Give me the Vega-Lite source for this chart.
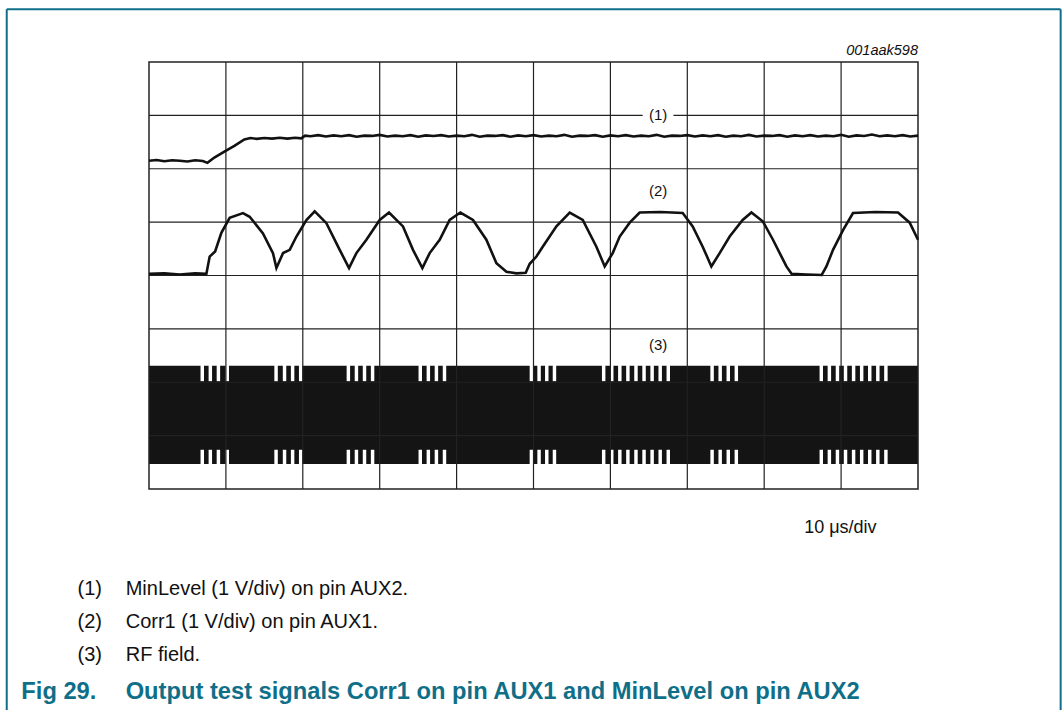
{
  "$schema": "https://vega.github.io/schema/vega-lite/v6.json",
  "width": 769,
  "height": 427,
  "autosize": {"type": "none"},
  "padding": {"left": 149, "top": 62, "right": 145, "bottom": 221},
  "background": "white",
  "config": {"view": {"stroke": null}, "font": "Liberation Sans"},
  "data": {"values": [{}]},
  "datasets": {
    "minlevel": [
      {"t":0,"v":6.15},{"t":1,"v":6.165},{"t":2,"v":6.14},{"t":3,"v":6.16},{"t":4,"v":6.15},{"t":5,"v":6.135},{"t":6,"v":6.16},{"t":7,"v":6.145},{"t":7.6,"v":6.11},{"t":8.5,"v":6.21},{"t":9.8,"v":6.32},{"t":11.1,"v":6.43},{"t":12.4,"v":6.55},{"t":13.2,"v":6.575},{"t":14,"v":6.56},{"t":15,"v":6.575},{"t":16,"v":6.565},{"t":17,"v":6.58},{"t":18,"v":6.565},{"t":19,"v":6.58},{"t":19.8,"v":6.57},{"t":20.3,"v":6.62},
      {"t":21,"v":6.61},{"t":22,"v":6.63},{"t":23,"v":6.605},{"t":24,"v":6.625},{"t":25,"v":6.61},{"t":26,"v":6.63},{"t":27,"v":6.6},{"t":28,"v":6.62},{"t":29,"v":6.615},{"t":30,"v":6.635},
      {"t":31,"v":6.605},{"t":32,"v":6.62},{"t":33,"v":6.61},{"t":34,"v":6.63},{"t":35,"v":6.6},{"t":36,"v":6.625},{"t":37,"v":6.615},{"t":38,"v":6.63},{"t":39,"v":6.605},{"t":40,"v":6.62},
      {"t":41,"v":6.61},{"t":42,"v":6.635},{"t":43,"v":6.6},{"t":44,"v":6.62},{"t":45,"v":6.615},{"t":46,"v":6.63},{"t":47,"v":6.6},{"t":48,"v":6.625},{"t":49,"v":6.61},{"t":50,"v":6.63},
      {"t":51,"v":6.605},{"t":52,"v":6.62},{"t":53,"v":6.61},{"t":54,"v":6.635},{"t":55,"v":6.6},{"t":56,"v":6.62},{"t":57,"v":6.615},{"t":58,"v":6.63},{"t":59,"v":6.6},{"t":60,"v":6.625},
      {"t":61,"v":6.61},{"t":62,"v":6.63},{"t":63,"v":6.605},{"t":64,"v":6.62},{"t":65,"v":6.61},{"t":66,"v":6.635},{"t":67,"v":6.6},{"t":68,"v":6.62},{"t":69,"v":6.615},{"t":70,"v":6.63},
      {"t":71,"v":6.605},{"t":72,"v":6.625},{"t":73,"v":6.61},{"t":74,"v":6.63},{"t":75,"v":6.6},{"t":76,"v":6.62},{"t":77,"v":6.61},{"t":78,"v":6.635},{"t":79,"v":6.605},{"t":80,"v":6.62},
      {"t":81,"v":6.615},{"t":82,"v":6.63},{"t":83,"v":6.6},{"t":84,"v":6.625},{"t":85,"v":6.61},{"t":86,"v":6.63},{"t":87,"v":6.605},{"t":88,"v":6.62},{"t":89,"v":6.61},{"t":90,"v":6.635},
      {"t":91,"v":6.6},{"t":92,"v":6.625},{"t":93,"v":6.615},{"t":94,"v":6.64},{"t":95,"v":6.61},{"t":96,"v":6.625},{"t":97,"v":6.61},{"t":98,"v":6.63},{"t":99,"v":6.605},{"t":100,"v":6.62}
    ],
    "corr1": [
      {"t":0,"v":4.03},{"t":2,"v":4.04},{"t":4,"v":4.02},{"t":6,"v":4.04},{"t":7.46,"v":4.03},{"t":7.89,"v":4.355},{"t":8.6,"v":4.45},{"t":9.41,"v":4.8},{"t":10.49,"v":5.08},{"t":12.22,"v":5.17},{"t":13.09,"v":5.1},{"t":14.82,"v":4.79},{"t":16.12,"v":4.42},{"t":16.57,"v":4.14},{"t":17.43,"v":4.42},{"t":18.3,"v":4.48},{"t":19.17,"v":4.73},{"t":20.47,"v":5.04},{"t":21.55,"v":5.2},
      {"t":23.07,"v":4.98},{"t":24.8,"v":4.48},{"t":26.01,"v":4.14},{"t":26.97,"v":4.42},{"t":28.27,"v":4.67},{"t":30.0,"v":5.04},{"t":31.21,"v":5.18},{"t":33.03,"v":4.92},{"t":34.33,"v":4.48},{"t":35.55,"v":4.14},{"t":36.5,"v":4.42},{"t":37.8,"v":4.67},{"t":39.1,"v":5.04},{"t":40.49,"v":5.18},
      {"t":42.13,"v":5.04},{"t":43.87,"v":4.67},{"t":45.18,"v":4.23},{"t":46.48,"v":4.07},{"t":47.8,"v":4.04},{"t":48.99,"v":4.05},{"t":49.51,"v":4.22},{"t":50.38,"v":4.355},{"t":51.2,"v":4.54},{"t":52.98,"v":4.92},{"t":54.71,"v":5.18},{"t":56.4,"v":5.04},{"t":58.18,"v":4.54},{"t":59.26,"v":4.17},{"t":60.3,"v":4.42},{"t":61.21,"v":4.73},{"t":62.51,"v":4.99},{"t":63.81,"v":5.18},
      {"t":66.5,"v":5.19},{"t":69.4,"v":5.17},{"t":70.7,"v":4.92},{"t":72.0,"v":4.54},{"t":73.13,"v":4.17},{"t":74.21,"v":4.42},{"t":75.51,"v":4.73},{"t":77.2,"v":5.04},{"t":78.34,"v":5.18},{"t":79.84,"v":5.01},{"t":81.14,"v":4.67},{"t":82.89,"v":4.17},{"t":83.58,"v":4.03},{"t":85.5,"v":4.02},{"t":87.48,"v":4.01},
      {"t":88.09,"v":4.17},{"t":88.95,"v":4.48},{"t":90.25,"v":4.85},{"t":91.55,"v":5.17},{"t":94.5,"v":5.19},{"t":97.4,"v":5.18},{"t":98.92,"v":4.99},{"t":100,"v":4.67}
    ],
    "gaps": [
      {"g0":6.7,"g1":7.15},{"g0":7.75,"g1":8.2},{"g0":8.8,"g1":9.25},{"g0":9.95,"g1":10.4},
      {"g0":16.3,"g1":16.75},{"g0":17.4,"g1":17.85},{"g0":18.45,"g1":18.9},{"g0":19.5,"g1":19.95},
      {"g0":25.7,"g1":26.15},{"g0":26.75,"g1":27.2},{"g0":27.8,"g1":28.25},{"g0":28.85,"g1":29.3},
      {"g0":35.05,"g1":35.5},{"g0":36.1,"g1":36.55},{"g0":37.15,"g1":37.6},{"g0":38.2,"g1":38.65},
      {"g0":49.5,"g1":49.95},{"g0":50.5,"g1":50.95},{"g0":51.5,"g1":51.95},{"g0":52.5,"g1":52.95},
      {"g0":58.9,"g1":59.35},{"g0":59.95,"g1":60.4},{"g0":61.0,"g1":61.45},{"g0":62.05,"g1":62.5},{"g0":63.1,"g1":63.55},{"g0":64.15,"g1":64.6},{"g0":65.2,"g1":65.65},{"g0":66.25,"g1":66.7},{"g0":67.3,"g1":67.75},
      {"g0":73.0,"g1":73.45},{"g0":74.05,"g1":74.5},{"g0":75.1,"g1":75.55},{"g0":76.15,"g1":76.6},
      {"g0":87.2,"g1":87.65},{"g0":88.25,"g1":88.7},{"g0":89.3,"g1":89.75},{"g0":90.35,"g1":90.8},{"g0":91.4,"g1":91.85},{"g0":92.45,"g1":92.9},{"g0":93.5,"g1":93.95},{"g0":94.55,"g1":95.0},{"g0":95.6,"g1":96.05}
    ],
    "vgrid": [{"t":10},{"t":20},{"t":30},{"t":40},{"t":50},{"t":60},{"t":70},{"t":80},{"t":90}],
    "hgrid": [{"v":1},{"v":2},{"v":3},{"v":4},{"v":5},{"v":6},{"v":7}],
    "rf": [{"t0":0,"t1":100,"lo":0.47,"hi":2.31}],
    "notes": [
      {"n": "(1)", "d": "MinLevel (1 V/div) on pin AUX2.", "v": -1.87},
      {"n": "(2)", "d": "Corr1 (1 V/div) on pin AUX1.", "v": -2.49},
      {"n": "(3)", "d": "RF field.", "v": -3.11}
    ]
  },
  "layer": [
    {
      "data": {"name": "rf"},
      "mark": {"type": "rect", "color": "#141414"},
      "encoding": {
        "x": {"field": "t0", "type": "quantitative", "scale": {"domain": [0,100], "nice": false, "zero": false}, "axis": null},
        "x2": {"field": "t1"},
        "y": {"field": "lo", "type": "quantitative", "scale": {"domain": [0,8], "nice": false, "zero": false}, "axis": null},
        "y2": {"field": "hi"}
      }
    },
    {
      "data": {"name": "gaps"},
      "mark": {"type": "rect", "color": "white"},
      "encoding": {
        "x": {"field": "g0", "type": "quantitative", "scale": {"domain": [0,100], "nice": false, "zero": false}, "axis": null},
        "x2": {"field": "g1"},
        "y": {"datum": 2.02, "type": "quantitative", "scale": {"domain": [0,8], "nice": false, "zero": false}, "axis": null},
        "y2": {"datum": 2.34}
      }
    },
    {
      "data": {"name": "gaps"},
      "mark": {"type": "rect", "color": "white"},
      "encoding": {
        "x": {"field": "g0", "type": "quantitative", "scale": {"domain": [0,100], "nice": false, "zero": false}, "axis": null},
        "x2": {"field": "g1"},
        "y": {"datum": 0.44, "type": "quantitative", "scale": {"domain": [0,8], "nice": false, "zero": false}, "axis": null},
        "y2": {"datum": 0.735}
      }
    },
    {
      "data": {"name": "vgrid"},
      "mark": {"type": "rule", "color": "#222", "strokeWidth": 1.2},
      "encoding": {
        "x": {"field": "t", "type": "quantitative", "scale": {"domain": [0,100], "nice": false, "zero": false}, "axis": null},
        "y": {"datum": 0, "type": "quantitative", "scale": {"domain": [0,8], "nice": false, "zero": false}, "axis": null},
        "y2": {"datum": 8}
      }
    },
    {
      "data": {"name": "hgrid"},
      "mark": {"type": "rule", "color": "#222", "strokeWidth": 1.2},
      "encoding": {
        "y": {"field": "v", "type": "quantitative", "scale": {"domain": [0,8], "nice": false, "zero": false}, "axis": null},
        "x": {"datum": 0, "type": "quantitative", "scale": {"domain": [0,100], "nice": false, "zero": false}, "axis": null},
        "x2": {"datum": 100}
      }
    },
    {
      "mark": {"type": "rect", "filled": false, "stroke": "#222", "strokeWidth": 1.5},
      "encoding": {
        "x": {"datum": 0, "type": "quantitative", "scale": {"domain": [0,100], "nice": false, "zero": false}, "axis": null},
        "x2": {"datum": 100},
        "y": {"datum": 0, "type": "quantitative", "scale": {"domain": [0,8], "nice": false, "zero": false}, "axis": null},
        "y2": {"datum": 8}
      }
    },
    {
      "data": {"name": "minlevel"},
      "mark": {"type": "line", "color": "#111", "strokeWidth": 2.6},
      "encoding": {
        "x": {"field": "t", "type": "quantitative", "scale": {"domain": [0,100], "nice": false, "zero": false}, "axis": null},
        "y": {"field": "v", "type": "quantitative", "scale": {"domain": [0,8], "nice": false, "zero": false}, "axis": null}
      }
    },
    {
      "data": {"name": "corr1"},
      "mark": {"type": "line", "color": "#111", "strokeWidth": 2.6},
      "encoding": {
        "x": {"field": "t", "type": "quantitative", "scale": {"domain": [0,100], "nice": false, "zero": false}, "axis": null},
        "y": {"field": "v", "type": "quantitative", "scale": {"domain": [0,8], "nice": false, "zero": false}, "axis": null}
      }
    },
    {
      "mark": {"type": "rect", "color": "white"},
      "encoding": {
        "x": {"datum": 64.2, "type": "quantitative", "scale": {"domain": [0,100], "nice": false, "zero": false}, "axis": null},
        "x2": {"datum": 68.2},
        "y": {"datum": 6.93, "type": "quantitative", "scale": {"domain": [0,8], "nice": false, "zero": false}, "axis": null},
        "y2": {"datum": 7.07}
      }
    },
    {
      "data": {"values": [{"s": "(1)", "t": 66.2, "v": 7.0}, {"s": "(2)", "t": 66.2, "v": 5.585}, {"s": "(3)", "t": 66.2, "v": 2.7}]},
      "mark": {"type": "text", "fontSize": 15, "color": "#111", "align": "center", "baseline": "middle"},
      "encoding": {
        "x": {"field": "t", "type": "quantitative", "scale": {"domain": [0,100], "nice": false, "zero": false}, "axis": null},
        "y": {"field": "v", "type": "quantitative", "scale": {"domain": [0,8], "nice": false, "zero": false}, "axis": null},
        "text": {"field": "s"}
      }
    },
    {
      "mark": {"type": "text", "text": "001aak598", "fontSize": 14.5, "fontStyle": "italic", "color": "#111", "align": "right", "baseline": "alphabetic", "dy": -7},
      "encoding": {
        "x": {"datum": 100, "type": "quantitative", "scale": {"domain": [0,100], "nice": false, "zero": false}, "axis": null},
        "y": {"datum": 8, "type": "quantitative", "scale": {"domain": [0,8], "nice": false, "zero": false}, "axis": null}
      }
    },
    {
      "mark": {"type": "text", "text": "10 μs/div", "fontSize": 18, "color": "#111", "align": "left", "baseline": "middle"},
      "encoding": {
        "x": {"datum": 85.2, "type": "quantitative", "scale": {"domain": [0,100], "nice": false, "zero": false}, "axis": null},
        "y": {"datum": -0.74, "type": "quantitative", "scale": {"domain": [0,8], "nice": false, "zero": false}, "axis": null}
      }
    },
    {
      "data": {"name": "notes"},
      "mark": {"type": "text", "fontSize": 20, "color": "#111", "align": "left", "baseline": "middle"},
      "encoding": {
        "x": {"datum": -9.3, "type": "quantitative", "scale": {"domain": [0,100], "nice": false, "zero": false}, "axis": null},
        "y": {"field": "v", "type": "quantitative", "scale": {"domain": [0,8], "nice": false, "zero": false}, "axis": null},
        "text": {"field": "n"}
      }
    },
    {
      "data": {"name": "notes"},
      "mark": {"type": "text", "fontSize": 20, "color": "#111", "align": "left", "baseline": "middle"},
      "encoding": {
        "x": {"datum": -3.03, "type": "quantitative", "scale": {"domain": [0,100], "nice": false, "zero": false}, "axis": null},
        "y": {"field": "v", "type": "quantitative", "scale": {"domain": [0,8], "nice": false, "zero": false}, "axis": null},
        "text": {"field": "d"}
      }
    },
    {
      "mark": {"type": "text", "text": "Fig 29.", "fontSize": 23.7, "fontWeight": "bold", "color": "#0f6f88", "align": "left", "baseline": "middle"},
      "encoding": {
        "x": {"datum": -16.6, "type": "quantitative", "scale": {"domain": [0,100], "nice": false, "zero": false}, "axis": null},
        "y": {"datum": -3.8, "type": "quantitative", "scale": {"domain": [0,8], "nice": false, "zero": false}, "axis": null}
      }
    },
    {
      "mark": {"type": "text", "text": "Output test signals Corr1 on pin AUX1 and MinLevel on pin AUX2", "fontSize": 23.7, "fontWeight": "bold", "color": "#0f6f88", "align": "left", "baseline": "middle"},
      "encoding": {
        "x": {"datum": -3.03, "type": "quantitative", "scale": {"domain": [0,100], "nice": false, "zero": false}, "axis": null},
        "y": {"datum": -3.8, "type": "quantitative", "scale": {"domain": [0,8], "nice": false, "zero": false}, "axis": null}
      }
    },
    {
      "mark": {"type": "rule", "color": "#0f6f88", "strokeWidth": 2},
      "encoding": {
        "x": {"datum": -18.5, "type": "quantitative", "scale": {"domain": [0,100], "nice": false, "zero": false}, "axis": null},
        "y": {"datum": 8.99, "type": "quantitative", "scale": {"domain": [0,8], "nice": false, "zero": false}, "axis": null},
        "y2": {"datum": -4.4}
      }
    },
    {
      "mark": {"type": "rule", "color": "#0f6f88", "strokeWidth": 2},
      "encoding": {
        "x": {"datum": 118.55, "type": "quantitative", "scale": {"domain": [0,100], "nice": false, "zero": false}, "axis": null},
        "y": {"datum": 8.99, "type": "quantitative", "scale": {"domain": [0,8], "nice": false, "zero": false}, "axis": null},
        "y2": {"datum": -4.4}
      }
    },
    {
      "mark": {"type": "rule", "color": "#0f6f88", "strokeWidth": 2},
      "encoding": {
        "x": {"datum": -18.5, "type": "quantitative", "scale": {"domain": [0,100], "nice": false, "zero": false}, "axis": null},
        "x2": {"datum": 118.55},
        "y": {"datum": 8.99, "type": "quantitative", "scale": {"domain": [0,8], "nice": false, "zero": false}, "axis": null}
      }
    }
  ]
}
